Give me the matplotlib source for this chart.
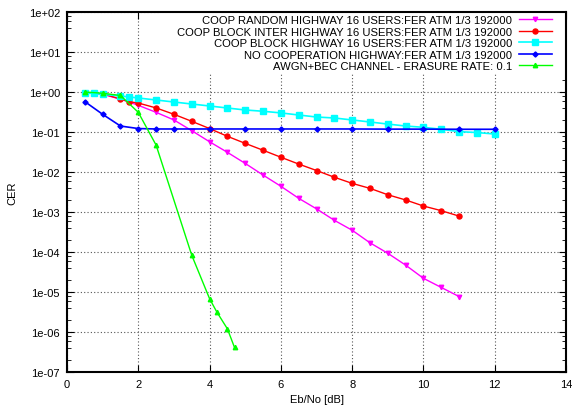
import matplotlib
matplotlib.use("Agg")
import matplotlib.pyplot as plt
from matplotlib.patches import Rectangle
from matplotlib.ticker import FixedLocator, LogLocator, NullFormatter

# ---- data ----
x_coop = [0.5, 0.75, 1.0, 1.5, 1.75, 2.0, 2.5, 3.0, 3.5, 4.0, 4.5, 5.0, 5.5, 6.0,
          6.5, 7.0, 7.5, 8.0, 8.5, 9.0, 9.5, 10.0, 10.5, 11.0]
cer_random = [0.95, 0.93, 0.88, 0.66, 0.56, 0.465, 0.31, 0.2, 0.108, 0.057, 0.031,
              0.0164, 0.0084, 0.0044, 0.0022, 0.0012, 0.00062, 0.00035, 0.00017,
              9.3e-5, 4.7e-5, 2.2e-5, 1.3e-5, 7.7e-6]
cer_block_inter = [0.95, 0.93, 0.9, 0.67, 0.57, 0.53, 0.40, 0.277, 0.185, 0.122, 0.078,
                   0.052, 0.035, 0.0234, 0.0158, 0.0109, 0.0074, 0.0052, 0.0039,
                   0.0027, 0.0020, 0.00141, 0.00108, 0.00079]
x_block = [0.5, 0.75, 1.0, 1.5, 1.75, 2.0, 2.5, 3.0, 3.5, 4.0, 4.5, 5.0, 5.5, 6.0,
           6.5, 7.0, 7.5, 8.0, 8.5, 9.0, 9.5, 10.0, 10.5, 11.0, 11.5, 12.0]
cer_block = [0.93, 0.93, 0.876, 0.794, 0.75, 0.708, 0.631, 0.562, 0.501, 0.447, 0.398,
             0.355, 0.33, 0.30, 0.266, 0.237, 0.224, 0.2, 0.178, 0.158, 0.141, 0.131,
             0.117, 0.102, 0.097, 0.089]
x_nocoop = [0.5, 1.0, 1.5, 2.0, 2.5, 3.0, 4.0, 5.0, 6.0, 7.0, 8.0, 9.0, 10.0, 11.0, 12.0]
cer_nocoop = [0.575, 0.277, 0.141, 0.122, 0.119, 0.119, 0.119, 0.119, 0.119, 0.119,
              0.119, 0.118, 0.118, 0.117, 0.117]
x_awgn = [0.5, 1.0, 1.5, 2.0, 2.5, 3.5, 4.0, 4.2, 4.5, 4.7]
cer_awgn = [1.0, 0.93, 0.82, 0.31, 0.047, 8.3e-5, 6.8e-6, 3.2e-6, 1.2e-6, 4.1e-7]

labels = ["COOP RANDOM HIGHWAY 16 USERS:FER ATM 1/3 192000",
          "COOP BLOCK INTER HIGHWAY 16 USERS:FER ATM 1/3 192000",
          "COOP BLOCK HIGHWAY 16 USERS:FER ATM 1/3 192000",
          "NO COOPERATION HIGHWAY:FER ATM 1/3 192000",
          "AWGN+BEC CHANNEL - ERASURE RATE: 0.1"]
xticks = [0, 2, 4, 6, 8, 10, 12, 14]
yticks = [1e-7, 1e-6, 1e-5, 1e-4, 1e-3, 1e-2, 1e-1, 1e0, 1e1, 1e2]
ytick_labels = ["1e-07", "1e-06", "1e-05", "1e-04", "1e-03", "1e-02", "1e-01",
                "1e+00", "1e+01", "1e+02"]

plt.rcParams['font.family'] = ['Liberation Sans', 'DejaVu Sans']
fs = 8
lfs = 8.1

fig = plt.figure(figsize=(5.72, 4.06), dpi=100)
ax = fig.add_axes([67/572, 33/406, 499/572, 360/406])
ax.set_axisbelow(True)

ax.plot(x_coop, cer_random, color='#ff00ff', marker='v', ms=3.2, lw=1, label=labels[0], zorder=3)
ax.plot(x_coop, cer_block_inter, color='#ff0000', marker='o', ms=3.6, lw=1, label=labels[1], zorder=3)
ax.plot(x_block, cer_block, color='#00ffff', marker='s', ms=4.3, lw=1.2, label=labels[2], zorder=3)
ax.plot(x_nocoop, cer_nocoop, color='#0000ff', marker='D', ms=2.6, lw=1.2, label=labels[3], zorder=3)
ax.plot(x_awgn, cer_awgn, color='#00ff00', marker='^', ms=3.2, lw=1, label=labels[4], zorder=3)

ax.set_yscale('log')
ax.set_xlim(0, 14)
ax.set_ylim(1e-7, 1e2)
ax.xaxis.set_major_locator(FixedLocator(xticks))
ax.set_xticklabels([str(t) for t in xticks], fontsize=fs)
ax.yaxis.set_major_locator(FixedLocator(yticks))
ax.set_yticklabels(ytick_labels, fontsize=fs)
ax.yaxis.set_minor_locator(LogLocator(base=10, subs=[2, 4, 6, 8], numticks=20))
ax.yaxis.set_minor_formatter(NullFormatter())
ax.tick_params(which='both', direction='in', top=True, right=True)
ax.tick_params(which='major', length=5, width=0.8, pad=5)
ax.tick_params(which='minor', length=3, width=0.6)
for s in ax.spines.values():
    s.set_linewidth(1.5)

ax.grid(True, which='major', color='#555555', linestyle=(0, (1, 2)), linewidth=0.8)

# opaque key area covering grid
ax.add_patch(Rectangle((93/499, 1 - 62/360), 1, 1, transform=ax.transAxes,
                       facecolor='white', edgecolor='none', zorder=1.5))

ax.set_xlabel("Eb/No [dB]", fontsize=fs, labelpad=4)
ax.set_ylabel("CER", fontsize=fs, labelpad=8)

leg = ax.legend(loc='upper right', bbox_to_anchor=((552 - 67)/499, 1 - 3/360),
                frameon=False, fontsize=lfs, markerfirst=False, numpoints=1,
                handlelength=2.95, handletextpad=0.6, labelspacing=0.14,
                borderpad=0, borderaxespad=0)
for t in leg.get_texts():
    t.set_ha('right')

fig.savefig("out.png", dpi=100)
